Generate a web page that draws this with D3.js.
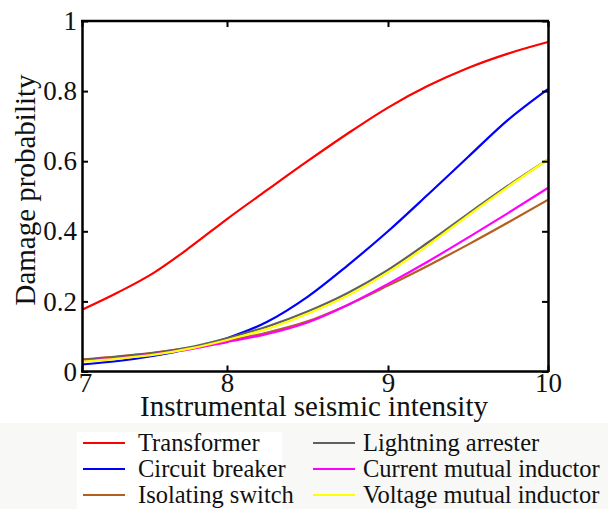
<!DOCTYPE html>
<html>
<head>
<meta charset="utf-8">
<script src="https://cdn.jsdelivr.net/npm/d3@7"></script>
<style>
  html, body { margin: 0; padding: 0; background: #ffffff; }
  svg { display: block; }
  text { font-family: "Liberation Serif", "Times New Roman", serif; fill: #111; }
</style>
</head>
<body>
<svg id="chart" width="608" height="509"></svg>
<script>
// ---- data ----
const intensity = [7, 7.25, 7.5, 7.75, 8, 8.25, 8.5, 8.75, 9, 9.25, 9.5, 9.75, 10];
const transformer      = [0.176, 0.226, 0.283, 0.356, 0.435, 0.518, 0.600, 0.679, 0.753, 0.815, 0.866, 0.907, 0.940];
const circuitBreaker   = [0.020, 0.030, 0.045, 0.066, 0.095, 0.142, 0.213, 0.303, 0.400, 0.505, 0.612, 0.718, 0.806];
const isolatingSwitch  = [0.034, 0.043, 0.054, 0.068, 0.087, 0.111, 0.143, 0.190, 0.245, 0.302, 0.362, 0.425, 0.490];
const lightningArrester= [0.033, 0.042, 0.053, 0.070, 0.095, 0.128, 0.171, 0.224, 0.290, 0.368, 0.450, 0.530, 0.605];
const currentInductor  = [0.030, 0.038, 0.050, 0.064, 0.084, 0.107, 0.140, 0.190, 0.250, 0.314, 0.382, 0.452, 0.524];
const voltageInductor  = [0.028, 0.037, 0.048, 0.066, 0.090, 0.122, 0.165, 0.217, 0.283, 0.360, 0.445, 0.527, 0.605];
const xTicks = [7, 8, 9, 10];
const yTicks = [0, 0.2, 0.4, 0.6, 0.8, 1];
const yTickLabels = ["0", "0.2", "0.4", "0.6", "0.8", "1"];
const seriesNames = ["Transformer", "Circuit breaker", "Isolating switch",
                     "Lightning arrester", "Current mutual inductor", "Voltage mutual inductor"];
const seriesValues = [transformer, circuitBreaker, isolatingSwitch,
                      lightningArrester, currentInductor, voltageInductor];
const seriesColors = ["#ff0000", "#0000ff", "#b3601c", "#606060", "#ff00ff", "#ffff00"];
const xTitle = "Instrumental seismic intensity";
const yTitle = "Damage probability";

// ---- layout ----
const svg = d3.select("#chart");
const pLeft = 82, pRight = 548, pTop = 21, pBottom = 371.5;

const x = d3.scaleLinear().domain([7, 8, 9, 10]).range([pLeft, 227, 388, pRight]);
const y = d3.scaleLinear().domain([0, 1]).range([pBottom, pTop]);

// legend background
svg.append("rect").attr("x", 0).attr("y", 423).attr("width", 608).attr("height", 86).attr("fill", "#f8f8f6");
svg.append("rect").attr("x", 77).attr("y", 432).attr("width", 205).attr("height", 77).attr("fill", "#ffffff");

// curves
const line = d3.line()
  .x((d, i) => x(intensity[i]))
  .y(d => y(d))
  .curve(d3.curveMonotoneX);

const g = svg.append("g");
seriesValues.forEach((vals, k) => {
  g.append("path")
    .attr("d", line(vals))
    .attr("fill", "none")
    .attr("stroke", seriesColors[k])
    .attr("stroke-width", 2.2);
});

// axes (ticks inward)
const tickLen = 6;
const axB = svg.append("g").attr("transform", `translate(0,${pBottom})`)
  .call(d3.axisBottom(x).tickValues(xTicks).tickSizeInner(-tickLen).tickSizeOuter(0).tickPadding(5).tickFormat(d3.format("d")));
const axT = svg.append("g").attr("transform", `translate(0,${pTop})`)
  .call(d3.axisTop(x).tickValues(xTicks).tickSizeInner(-tickLen).tickSizeOuter(0).tickFormat(""));
const axL = svg.append("g").attr("transform", `translate(${pLeft},0)`)
  .call(d3.axisLeft(y).tickValues(yTicks).tickSizeInner(-tickLen).tickSizeOuter(0).tickPadding(4)
    .tickFormat((d, i) => yTickLabels[i]));
const axR = svg.append("g").attr("transform", `translate(${pRight},0)`)
  .call(d3.axisRight(y).tickValues(yTicks).tickSizeInner(-tickLen).tickSizeOuter(0).tickFormat(""));

[axB, axT, axL, axR].forEach(a => {
  a.select(".domain").attr("stroke", "#000").attr("stroke-width", 2.5);
  a.selectAll(".tick line").attr("stroke", "#000").attr("stroke-width", 2);
  a.selectAll("text").attr("font-family", "Liberation Serif").attr("font-size", 27).attr("fill", "#111");
});
axB.selectAll(".domain").attr("d", `M${pLeft - 1},0H${pRight + 1}`);
axT.selectAll(".domain").attr("d", `M${pLeft - 1},0H${pRight + 1}`);
axB.selectAll(".tick text").attr("dy", null).attr("y", 20)
  .attr("x", d => d === 7 ? 3 : 0);
axL.selectAll(".tick text").attr("x", -5);

// axis titles
svg.append("text")
  .attr("x", 314).attr("y", 416)
  .attr("text-anchor", "middle")
  .attr("font-size", 29)
  .text(xTitle);
svg.append("text")
  .attr("transform", `translate(35,190) rotate(-90)`)
  .attr("text-anchor", "middle")
  .attr("font-size", 29)
  .text(yTitle);

// legend
const legX = [83, 313];
const legTextX = [138, 363];
const legY = [443, 469, 495];
seriesNames.forEach((name, i) => {
  const col = Math.floor(i / 3), row = i % 3;
  svg.append("line")
    .attr("x1", legX[col]).attr("x2", legX[col] + 42)
    .attr("y1", legY[row]).attr("y2", legY[row])
    .attr("stroke", seriesColors[i]).attr("stroke-width", 2.2);
  svg.append("text")
    .attr("x", legTextX[col]).attr("y", legY[row] + 8)
    .attr("font-size", 24.5)
    .text(name);
});
</script>
</body>
</html>
